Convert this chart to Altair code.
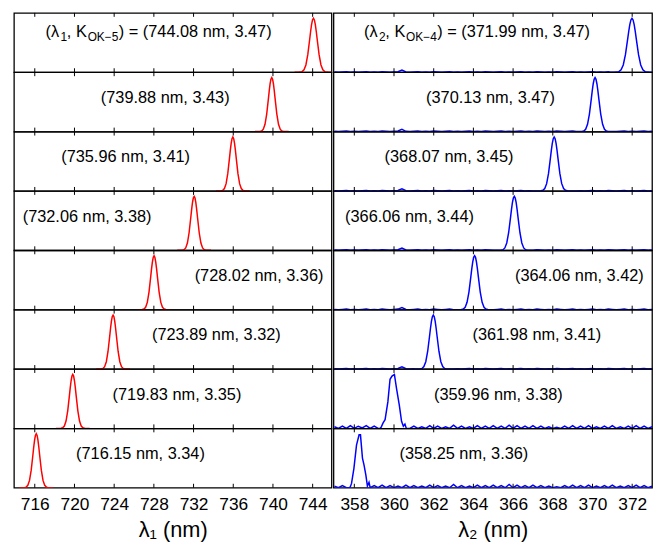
import altair as alt
import pandas as pd

# ---------------- data ----------------
LAM1 = [744.08, 739.88, 735.96, 732.06, 728.02, 723.89, 719.83, 716.15]
K1 = [3.47, 3.43, 3.41, 3.38, 3.36, 3.32, 3.35, 3.34]
LAM2 = [371.99, 370.13, 368.07, 366.06, 364.06, 361.98, 359.96, 358.25]
K2 = [3.47, 3.47, 3.45, 3.44, 3.42, 3.41, 3.38, 3.36]

# peak widths (sigma, nm)
SIG1 = [0.38, 0.34, 0.34, 0.34, 0.34, 0.34, 0.34, 0.34]
SIG2 = [0.22, 0.19, 0.19, 0.19, 0.19, 0.19, 0.19, 0.19]

# label centres (nm) for panels 2..8
LABX1 = [None, 729.14, 725.15, 721.27, 738.60, 734.30, 730.33, 726.65]
LABX2 = [None, 364.86, 362.77, 360.78, 369.34, 367.20, 365.26, 363.52]

TICKS1 = [716, 720, 724, 728, 732, 736, 740, 744]
TICKS2 = [358, 360, 362, 364, 366, 368, 370, 372]

# tabulated peak shape (offset in widths, relative height)
PROFILE_OFF = [-5, -4, -3.5, -3, -2.5, -2, -1.5, -1, -0.75, -0.5, -0.25, 0,
               0.25, 0.5, 0.75, 1, 1.5, 2, 2.5, 3, 3.5, 4, 5]
PROFILE_H = [0, 0, 0.002, 0.011, 0.044, 0.135, 0.325, 0.607, 0.755, 0.882, 0.969, 1.0,
             0.969, 0.882, 0.755, 0.607, 0.325, 0.135, 0.044, 0.011, 0.002, 0, 0]

# jagged peaks of the last two blue panels (offset nm, relative height)
JAG7_OFF = [-0.66, -0.61, -0.51, -0.41, -0.27, -0.16, -0.06, 0.06, 0.17, 0.31, 0.42, 0.51, 0.59, 0.66]
JAG7_H = [0.0, 0.02, 0.10, 0.16, 0.49, 0.91, 0.97, 1.0, 0.73, 0.42, 0.13, 0.04, 0.08, 0.0]
JAG8_OFF = [-0.50, -0.45, -0.39, -0.27, -0.14, -0.01, 0.06, 0.16, 0.24, 0.33, 0.41, 0.49, 0.55]
JAG8_H = [0.0, 0.02, 0.08, 0.36, 0.79, 0.98, 0.98, 0.55, 0.42, 0.24, 0.03, 0.10, 0.0]

# blue baseline noise, sampled every 0.2 nm from 357.0 nm
NOISE_START, NOISE_STEP = 357.0, 0.2
NOISE_LO = [0.005, 0.0, 0.005, 0.01, 0.0, 0.005, 0.0, 0.005, 0.01, 0.0,
            0.005, 0.0, 0.01, 0.005, 0.0, 0.005, 0.01, 0.04, 0.005, 0.0,
            0.005, 0.01, 0.0, 0.005, 0.0, 0.01, 0.005, 0.0, 0.005, 0.01,
            0.0, 0.005, 0.0, 0.005, 0.01, 0.0, 0.005, 0.0, 0.01, 0.005,
            0.0, 0.005, 0.01, 0.0, 0.005, 0.0, 0.005, 0.01, 0.0, 0.005,
            0.0, 0.01, 0.005, 0.0, 0.005, 0.0, 0.01, 0.005, 0.0, 0.005,
            0.01, 0.0, 0.005, 0.0, 0.005, 0.01, 0.0, 0.005, 0.0, 0.01,
            0.005, 0.0, 0.005, 0.01, 0.0, 0.005, 0.0, 0.005, 0.01, 0.0,
            0.005]
NOISE_HI = [0.03, 0.0, 0.04, 0.0, 0.05, 0.0, 0.04, 0.01, 0.05, 0.0,
            0.04, 0.0, 0.05, 0.0, 0.04, 0.0, 0.03, 0.0, 0.05, 0.0,
            0.04, 0.0, 0.03, 0.0, 0.05, 0.0, 0.04, 0.0, 0.03, 0.0,
            0.06, 0.0, 0.04, 0.0, 0.03, 0.0, 0.05, 0.0, 0.04, 0.0,
            0.05, 0.0, 0.04, 0.0, 0.06, 0.0, 0.05, 0.0, 0.04, 0.0,
            0.05, 0.0, 0.04, 0.0, 0.03, 0.0, 0.02, 0.0, 0.04, 0.0,
            0.05, 0.0, 0.04, 0.0, 0.05, 0.0, 0.03, 0.0, 0.04, 0.0,
            0.05, 0.0, 0.03, 0.0, 0.04, 0.0, 0.05, 0.0, 0.04, 0.0,
            0.03]

# ---------------- layout ----------------
H = 60
W1, W2 = 321, 322
DOM1 = [713.9, 745.9]
DOM2 = [356.95, 373.0]
YDOM = [0, 1.1]
FONT = "Liberation Sans"
FS = 16.5
SUB = 12
TEXT_Y = 0.623
FIRST_Y = 0.745


def red_df(i):
    xs = [LAM1[i] + o * SIG1[i] for o in PROFILE_OFF]
    return pd.DataFrame({"x": xs, "y": PROFILE_H})


def blue_df(i):
    noise = NOISE_HI if i >= 6 else NOISE_LO
    if i == 6:
        px = [LAM2[i] + o for o in JAG7_OFF]
        py = JAG7_H
    elif i == 7:
        px = [LAM2[i] + o for o in JAG8_OFF]
        py = JAG8_H
    else:
        px = [LAM2[i] + o * SIG2[i] for o in PROFILE_OFF]
        py = PROFILE_H
    lo, hi = min(px), max(px)
    pts = []
    for k, v in enumerate(noise):
        xv = NOISE_START + k * NOISE_STEP
        if xv < lo or xv > hi:
            pts.append((xv, v))
    pts += list(zip(px, py))
    pts.sort()
    return pd.DataFrame({"x": [p[0] for p in pts], "y": [p[1] for p in pts]})


def panel(line_df, color, dom, ticks, texts, width, bottom, title):
    if bottom:
        axis = alt.Axis(values=ticks, ticks=False, domain=False, grid=False,
                        labelFontSize=17.5, labelPadding=8, labelColor="black",
                        labelFont=FONT, format="d", title=title, titleFont=FONT,
                        titleFontSize=22, titleFontWeight="normal",
                        titleColor="black", titlePadding=7)
    else:
        axis = None

    def xenc():
        return alt.X("x:Q", scale=alt.Scale(domain=dom, nice=False, zero=False), axis=axis)

    def yenc():
        return alt.Y("y:Q", scale=alt.Scale(domain=YDOM, nice=False), axis=None)

    line = alt.Chart(line_df).mark_line(
        color=color, strokeWidth=1.5, clip=True
    ).encode(x=xenc(), y=yenc())
    tdf = pd.DataFrame({"x": ticks})
    top = alt.Chart(tdf).mark_rule(color="black", strokeWidth=1).encode(
        x=xenc(), y=alt.value(0), y2=alt.value(4))
    bot = alt.Chart(tdf).mark_rule(color="black", strokeWidth=1).encode(
        x=xenc(), y=alt.value(H - 4), y2=alt.value(H))
    layers = [line, top, bot]
    for t in texts:
        d = pd.DataFrame({"x": [t["x"]], "y": [t["y"]], "s": [t["s"]]})
        layers.append(
            alt.Chart(d).mark_text(
                align=t["align"], baseline="middle", fontSize=t["size"],
                dx=t["dx"], dy=t["dy"], font=FONT, color="black"
            ).encode(x=xenc(), y=yenc(), text="s:N")
        )
    return alt.layer(*layers).properties(width=width, height=H)


def first_texts(x0, sub_lam, sub_k, lam, k):
    pieces = [("(λ", 0, 0, FS), (sub_lam, 15, 5, SUB), (", K", 21.5, 0, FS),
              (sub_k, 42.5, 5, SUB), (f") = ({lam:.2f} nm, {k:.2f})", 74, 0, FS)]
    return [{"x": x0, "y": FIRST_Y, "s": s, "dx": dx, "dy": dy, "size": sz, "align": "left"}
            for s, dx, dy, sz in pieces]


left_panels, right_panels = [], []
for i in range(8):
    bottom = i == 7
    if i == 0:
        tl = first_texts(717.09, "1", "OK−5", LAM1[0], K1[0])
        tr = first_texts(358.49, "2", "OK−4", LAM2[0], K2[0])
    else:
        tl = [{"x": LABX1[i], "y": TEXT_Y, "s": f"({LAM1[i]:.2f} nm, {K1[i]:.2f})",
               "dx": 0, "dy": 0, "size": FS, "align": "center"}]
        tr = [{"x": LABX2[i], "y": TEXT_Y, "s": f"({LAM2[i]:.2f} nm, {K2[i]:.2f})",
               "dx": 0, "dy": 0, "size": FS, "align": "center"}]
    left_panels.append(panel(red_df(i), "#ff0000", DOM1, TICKS1, tl, W1, bottom, "λ₁ (nm)"))
    right_panels.append(panel(blue_df(i), "#0000ff", DOM2, TICKS2, tr, W2, bottom, "λ₂ (nm)"))

chart = alt.hconcat(
    alt.vconcat(*left_panels, spacing=0, bounds="flush"),
    alt.vconcat(*right_panels, spacing=0, bounds="flush"),
    spacing=0,
).properties(
    padding={"left": 5, "top": 0, "right": 2, "bottom": 2}
).configure(
    font=FONT, background="white"
).configure_view(
    stroke="black", strokeWidth=1.3
)

chart.save("out.html", embed_options={"renderer": "svg", "actions": False})
